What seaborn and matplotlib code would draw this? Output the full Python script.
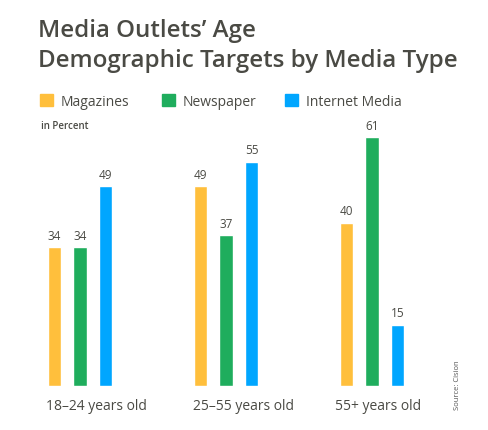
import pandas as pd
import matplotlib
matplotlib.use("Agg")
import matplotlib.pyplot as plt
import seaborn as sns

# Data
age_groups = ["18–24 years old", "25–55 years old", "55+ years old"]
media_types = ["Magazines", "Newspaper", "Internet Media"]
magazines = [34, 49, 40]
newspaper = [34, 37, 61]
internet = [49, 55, 15]

colors = ["#FFBF3C", "#1FAD5D", "#00A6FF"]
text_color = "#4A4A44"

df = pd.DataFrame({
    "age": age_groups * 3,
    "media": [m for m in media_types for _ in age_groups],
    "value": magazines + newspaper + internet,
})

sns.set_style("white")
plt.rcParams["font.family"] = ["Open Sans", "DejaVu Sans"]

fig = plt.figure(figsize=(4.89, 4.31), dpi=100)
ax = fig.add_axes([7 / 489, 44.3 / 431, 438 / 489, 285 / 431])

sns.barplot(data=df, x="age", y="value", hue="media", order=age_groups,
            hue_order=media_types, palette=colors, width=0.525, gap=0.47,
            saturation=1, legend=False, ax=ax)

for cont in ax.containers:
    ax.bar_label(cont, padding=4, fontsize=8.5, color=text_color)

ax.set_ylim(0, 70)
ax.set_xlim(-0.5, 2.5)
ax.set_xlabel("")
ax.set_ylabel("")
ax.set_yticks([])
sns.despine(ax=ax, left=True, bottom=True)
ax.set_xticks([0.11, 1.12, 2.04])
ax.set_xticklabels(age_groups, fontsize=10, color=text_color)
ax.tick_params(axis="x", length=0, pad=9)

# title
fig.text(38 / 489, 1 - 37 / 431, "Media Outlets’ Age", fontsize=17.4,
         fontweight="semibold", color=text_color, va="baseline")
fig.text(38 / 489, 1 - 67 / 431, "Demographic Targets by Media Type",
         fontsize=17.4, fontweight="semibold", color=text_color, va="baseline")

# legend
leg_x = [40, 162, 285]
for x, name, c in zip(leg_x, media_types, colors):
    fig.patches.append(plt.Rectangle((x / 489, 1 - 107 / 431), 13 / 489, 12 / 431,
                                     transform=fig.transFigure, color=c))
    fig.text((x + 21) / 489, 1 - 105.5 / 431, name, fontsize=10,
             color=text_color, va="baseline")

fig.text(41 / 489, 1 - 129 / 431, "in Percent", fontsize=7,
         fontweight="semibold", color=text_color, va="baseline")

fig.text(458 / 489, 1 - 385 / 431, "Source: Cision", fontsize=5.5,
         rotation=90, color="#555555", ha="center", va="center")

fig.savefig("out.png", dpi=100)
